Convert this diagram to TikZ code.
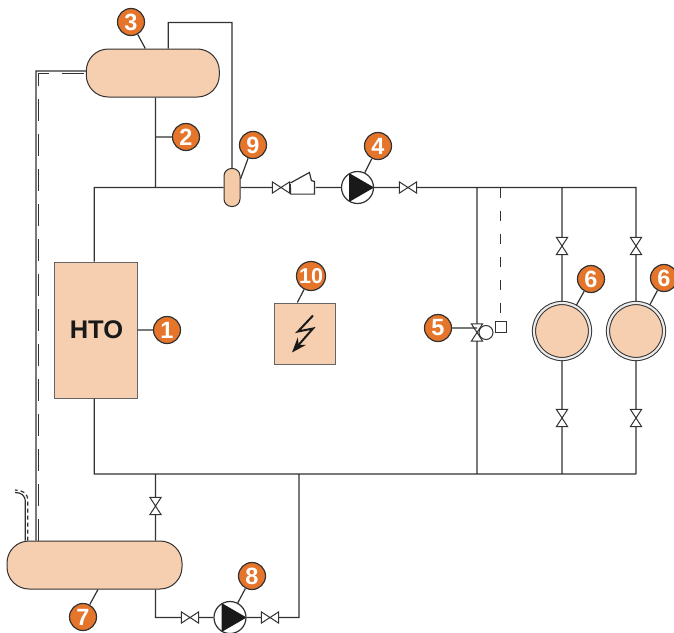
\documentclass[tikz,border=0pt]{standalone}
\usepackage{fontspec}
\setmainfont{Liberation Sans}
\usetikzlibrary{arrows.meta}
\definecolor{tankfill}{HTML}{F5CFB0}
\definecolor{orangefill}{HTML}{E5752A}
\definecolor{pipeline}{HTML}{333132}
\tikzset{
	tank/.style={draw=pipeline,line width=1pt,fill=tankfill,rounded corners=22pt,inner sep=0pt,minimum width=133pt,minimum height=48pt},
	callout/.style={circle,draw=pipeline,line width=1.2pt,fill=orangefill,text=white,font=\fontsize{23.5}{23.5}\selectfont\bfseries,inner sep=0pt,minimum size=27pt},
	valveh/.style={inner sep=0pt,minimum width=16pt,minimum height=10pt,append after command={\pgfextra{\draw[pipeline,line width=1pt] (\tikzlastnode.north west) -- (\tikzlastnode.south east) -- (\tikzlastnode.north east) -- (\tikzlastnode.south west) -- cycle;}}},
	valvev/.style={inner sep=0pt,minimum width=10pt,minimum height=16pt,append after command={\pgfextra{\draw[pipeline,line width=1pt] (\tikzlastnode.north west) -- (\tikzlastnode.south east) -- (\tikzlastnode.south west) -- (\tikzlastnode.north east) -- cycle;}}},
	pumpc/.style={circle,draw=pipeline,inner sep=0pt,minimum size=32pt,append after command={\pgfextra{\fill[black!90] (\tikzlastnode.120) -- (\tikzlastnode.0) -- (\tikzlastnode.240) -- cycle;}}},
	storage/.style={circle,draw=pipeline,line width=1pt,fill=tankfill,double=black!8,double distance=2.2pt,inner sep=0pt,minimum size=56pt,outer sep=1.6pt},
	plainbox/.style={draw=pipeline!75,line width=1pt,fill=tankfill,inner sep=0pt},
}
\begin{document}
\begin{tikzpicture}[x=1pt,y=-1pt,line width=1.2pt,pipeline]
\useasboundingbox (0,0) rectangle (674,632);
\node [tank] (t3) at (152.8,73) {};
\node [tank,minimum width=175pt] (t7) at (94.5,565) {};
\node [plainbox,minimum width=83pt,minimum height=136pt,font=\fontsize{25.5}{25.5}\selectfont\bfseries,text=black!90] (hto) at (95.5,330) {\hspace{2pt}HTO};
\node [plainbox,minimum size=61pt] (b10) at (304.5,333.5) {};
\node [draw=pipeline,line width=1pt,fill=tankfill!95!orange,rounded corners=7.5pt,inner sep=0pt,minimum width=16pt,minimum height=38pt] (v9) at (232,187.5) {};
\node [valveh] (va1) at (281,187.5) {};
\node [inner sep=0pt,minimum width=24pt,minimum height=12pt] (chk) at (303,187.5) {};
\node [pumpc] (p4) at (357.5,187.5) {};
\node [valveh] (va2) at (408,187.5) {};
\node [valvev] (va5) at (477,332.5) {};
\node [circle,draw=pipeline,line width=1pt,inner sep=0pt,minimum size=14pt] (f5) at (486,332.5) {};
\node [draw=pipeline,line width=1pt,inner sep=0pt,minimum size=11pt] (s5) at (500.8,326.5) {};
\node [valvev] (va61) at (562,246) {};
\node [storage] (t61) at (562,331) {};
\node [valvev] (va62) at (562,418) {};
\node [valvev] (va63) at (636,246) {};
\node [storage] (t62) at (636,331) {};
\node [valvev] (va64) at (636,418) {};
\node [valvev] (va7) at (155.5,506) {};
\node [valveh] (va81) at (190,617.5) {};
\node [pumpc] (p8) at (230,617.5) {};
\node [valveh] (va82) at (270,617.5) {};
\node [callout] (c1) at (167,330) {1};
\node [callout] (c2) at (186,137) {2};
\node [callout] (c3) at (131,22) {3};
\node [callout] (c4) at (378,146) {4};
\node [callout] (c5) at (438,328) {5};
\node [callout] (c61) at (591,279) {6};
\node [callout] (c62) at (664,278) {6};
\node [callout] (c7) at (83,617) {7};
\node [callout] (c8) at (252,576) {8};
\node [callout] (c9) at (253,145) {9};
\node [callout,minimum size=29pt,font=\fontsize{21.5}{21.5}\selectfont\bfseries] (c10) at (311,276) {10};
\coordinate (tl) at (94.3,187.5);
\coordinate (tm) at (155.5,187.5);
\coordinate (tr) at (636,187.5);
\coordinate (bl) at (94.3,474);
\coordinate (bm) at (155.5,474);
\coordinate (bx) at (299,474);
\coordinate (br) at (636,474);
\coordinate (r5) at (477,187.5);
\coordinate (r5d) at (500.8,187.5);
\coordinate (r6) at (562,187.5);
\coordinate (b5) at (477,474);
\coordinate (b6) at (562,474);
\coordinate (l1) at (36,71);
\coordinate (l2) at (38.6,73.5);
\coordinate (l3) at (25.3,502);
\coordinate (l3e) at (15,492.5);
\coordinate (l4) at (27.7,500);
\coordinate (l4e) at (15,490);
\draw
(hto.north -| tl) -- (tl) -- (v9)
(v9) -- (va1) -- (chk) -- (p4) -- (va2) -- (tr) -- (va63) -- (t62) -- (va64) -- (br)
(hto.south -| bl) -- (bl) -- (br)
(tm |- t3.south) -- (tm)
(t3.north) ++(15.5,0) -- ++(0,-26) -| (v9.north)
(r5) -- (va5) -- (b5)
(r6) -- (va61) -- (t61) -- (va62) -- (b6)
(bm) -- (va7) -- (bm |- t7.north)
(bm |- t7.south) |- (va81)
(va81) -- (p8) -- (va82)
(va82) -| (bx)
(t7.north -| l1) -- (l1) -- (l1 -| t3.west)
(t7.north -| l3) -- (l3) .. controls (25.3,495) and (21,492.5) .. (l3e)
;
\draw [dash pattern=on 22pt off 13pt]
(t7.north -| l2) -- (l2) -- (l2 -| t3.west)
;
\draw [dash pattern=on 10pt off 13pt] (r5d) -- (s5.north);
\draw [dash pattern=on 4pt off 3pt] (t7.north -| l4) -- (l4) .. controls (27.7,493) and (22,490) .. (l4e);
%check valve outline
\draw (chk.south west) -- (chk.west) ++(0,-4.5) -- ++(19,-10.5) -- ++(2,8) -- ++(3,1) |- (chk.south west);
\draw (chk.south west) -- ++(0,-10.5);
%callout leaders
\draw
(c1) -- (hto.east)
(c2) -- (c2 -| tm)
(c3) -- (t3.107)
(c4) -- (p4)
(c5) -- (c5 -| va5)
(c61) -- (t61)
(c62) -- (t62)
(c7) -- (t7.-82)
(c8) -- (p8)
(c9) -- (v9.45)
(c10) -- (b10.103)
;
\draw [line width=2pt,-{Stealth[length=15pt,width=11pt]},black!90] (b10.center) ++(8.5,-18) -- ++(-15,16) -- ++(15,-3) -- ++(-21,24);
\end{tikzpicture}
\end{document}
